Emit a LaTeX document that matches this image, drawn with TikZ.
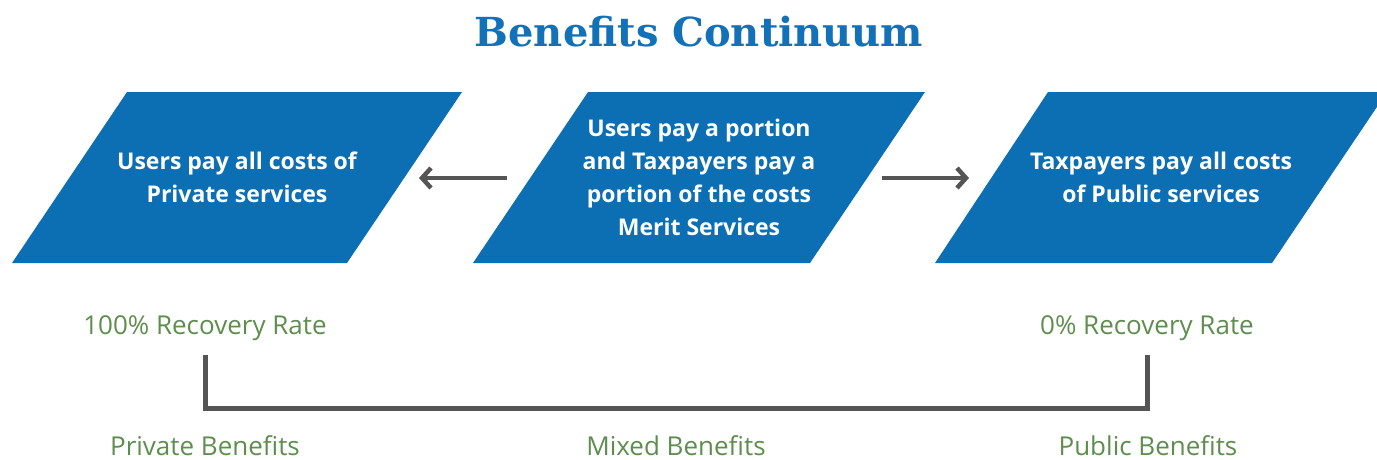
\documentclass[tikz,border=0pt]{standalone}
\usepackage{fontspec}
\setmainfont{Open Sans}
\newfontfamily\titlefont{DejaVu Serif}
\usetikzlibrary{arrows.meta}
\definecolor{boxblue}{HTML}{0C6EB3}
\definecolor{titleblue}{HTML}{1271B7}
\definecolor{lblgreen}{HTML}{5E8E4E}
\definecolor{linegray}{HTML}{555555}
\begin{document}
\begin{tikzpicture}[x=1pt,y=-1pt,
  box/.style={fill=boxblue},
  boxtext/.style={text=white,font=\bfseries\fontsize{23}{33}\selectfont,align=center},
  lbl/.style={text=lblgreen,font=\fontsize{26}{30}\selectfont,inner sep=0pt,anchor=base},
  conn/.style={draw=linegray,line width=4.5pt,-{Straight Barb[length=9pt,width=20pt,line width=4.5pt]}},
  bracket/.style={draw=linegray,line width=5pt}]
\useasboundingbox (0,0) rectangle (1377,459);
\clip (0,0) rectangle (1377,459);
% title
\node[text=titleblue,font=\titlefont\bfseries\fontsize{40}{44}\selectfont] (title) at (699,32) {Benefits Continuum};
% parallelograms
\fill[box] (127,92) -- (462,92) -- (347,263) -- (12,263) -- cycle;
\fill[box] (588,92) -- (925,92) -- (810,263) -- (473,263) -- cycle;
\fill[box] (1048,92) -- (1387,92) -- (1272,263) -- (935,263) -- cycle;
\node[boxtext] (p1) at (237,177) {Users pay all costs of\\Private services};
\node[boxtext] (p2) at (699,177) {Users pay a portion\\and Taxpayers pay a\\portion of the costs\\Merit Services};
\node[boxtext] (p3) at (1161,177) {Taxpayers pay all costs\\of Public services};
% arrows
\coordinate (l1) at (507,178);
\coordinate (l2) at (419,178);
\coordinate (r1) at (882,178);
\coordinate (r2) at (969,178);
\draw[conn] (l1) -- (l2);
\draw[conn] (r1) -- (r2);
% labels
\node[lbl] (rate100) at (205,334) {100\% Recovery Rate};
\node[lbl] (rate0) at (1147,334) {0\% Recovery Rate};
\node[lbl] (priv) at (205,455) {Private Benefits};
\node[lbl] (mixed) at (676,455) {Mixed Benefits};
\node[lbl] (pub) at (1148,455) {Public Benefits};
% bracket
\coordinate (b1) at (205,355);
\coordinate (b2) at (1147,355);
\draw[bracket] (b1) -- (205,408) -- (1147,408) -- (b2);
\end{tikzpicture}
\end{document}
